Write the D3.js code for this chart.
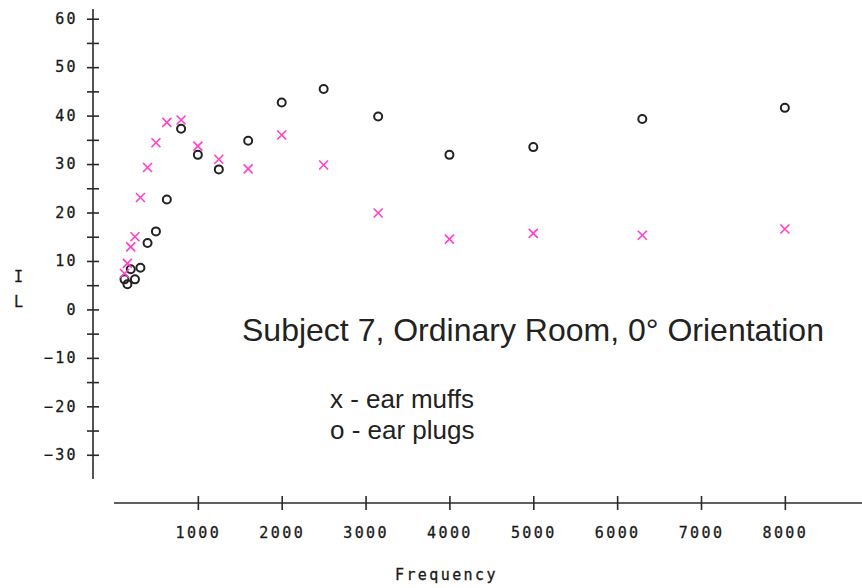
<!DOCTYPE html>
<meta charset="utf-8">
<style>
body { margin: 0; background: #fff; }
.axis path, .axis line { stroke: #2a2a2a; stroke-width: 1.6px; fill: none; }
.axis text, .label { font: 15px "DejaVu Sans Mono", monospace; letter-spacing: 2.4px; fill: #1a1a1a; stroke: #1a1a1a; stroke-width: 0.3px; }
.title { font: 32px "Liberation Sans", Arial, sans-serif; fill: #222; }
.legend { font: 26px "Liberation Sans", Arial, sans-serif; fill: #222; }
.plug { fill: none; stroke: #222; stroke-width: 2px; }
.muff { stroke: #ff3fcc; stroke-width: 1.6px; }
</style>
<svg width="862" height="588"></svg>
<script src="https://d3js.org/d3.v7.min.js"></script>
<script>
// third-octave centre frequencies (Hz)
var freqs = [125, 160, 200, 250, 315, 400, 500, 630, 800, 1000, 1250, 1600, 2000, 2500, 3150, 4000, 5000, 6300, 8000];
// insertion loss, dB
var muffs = [7.4, 9.5, 12.9, 15.0, 23.1, 29.3, 34.4, 38.6, 39.1, 33.7, 31.0, 29.0, 36.0, 29.8, 19.9, 14.5, 15.7, 15.3, 16.6];
var plugs = [6.2, 5.2, 8.3, 6.2, 8.6, 13.7, 16.1, 22.7, 37.3, 31.9, 28.9, 34.8, 42.7, 45.5, 39.8, 31.9, 33.5, 39.3, 41.6];
var xTicks = [1000, 2000, 3000, 4000, 5000, 6000, 7000, 8000];
var yTicks = d3.range(-30, 61, 5);

var svg = d3.select("svg");

var x = d3.scaleLinear().domain([0, 8920]).range([114, 862]);
var y = d3.scaleLinear().domain([-35, 62]).range([479, 9]);

// y axis, ticks cross the line
var yAxis = svg.append("g")
    .attr("class", "axis")
    .attr("transform", "translate(93,0)")
    .call(d3.axisLeft(y).tickValues(yTicks).tickSize(6).tickSizeOuter(0).tickPadding(9)
      .tickFormat(function(d) { return d % 10 === 0 ? d3.format("")(d) : ""; }));
yAxis.selectAll(".tick line").attr("x1", 6);
yAxis.select(".domain").attr("d", "M0," + y.range()[0] + "V" + y.range()[1]);

var xAxis = svg.append("g")
    .attr("class", "axis")
    .attr("transform", "translate(0,503)")
    .call(d3.axisBottom(x).tickValues(xTicks).tickSize(7).tickSizeOuter(0).tickPadding(17)
      .tickFormat(d3.format("")));
xAxis.selectAll(".tick line").attr("y1", -7);
xAxis.select(".domain").attr("d", "M" + x.range()[0] + ",0H" + x.range()[1]);
svg.selectAll(".axis text").attr("fill", null);

svg.append("text").attr("class", "label").attr("x", 395).attr("y", 580).text("Frequency");
svg.append("text").attr("class", "label").attr("x", 14).attr("y", 282).text("I");
svg.append("text").attr("class", "label").attr("x", 14).attr("y", 307).text("L");

svg.append("text").attr("class", "title").attr("x", 242).attr("y", 341)
  .text("Subject 7, Ordinary Room, 0\u00b0 Orientation");
svg.append("text").attr("class", "legend").attr("x", 330).attr("y", 408).text("x - ear muffs");
svg.append("text").attr("class", "legend").attr("x", 330).attr("y", 439).text("o - ear plugs");

// ear plugs: open circles
svg.append("g").selectAll("circle")
  .data(freqs)
  .enter().append("circle")
  .attr("class", "plug")
  .attr("cx", function(d) { return x(d); })
  .attr("cy", function(d, i) { return y(plugs[i]); })
  .attr("r", 4);

// ear muffs: crosses
var s = 4.5;
svg.append("g").selectAll("path")
  .data(freqs)
  .enter().append("path")
  .attr("class", "muff")
  .attr("d", function(d, i) {
    var cx = x(d), cy = y(muffs[i]);
    return "M" + (cx - s) + "," + (cy - s) + "L" + (cx + s) + "," + (cy + s) +
           "M" + (cx - s) + "," + (cy + s) + "L" + (cx + s) + "," + (cy - s);
  });
</script>
